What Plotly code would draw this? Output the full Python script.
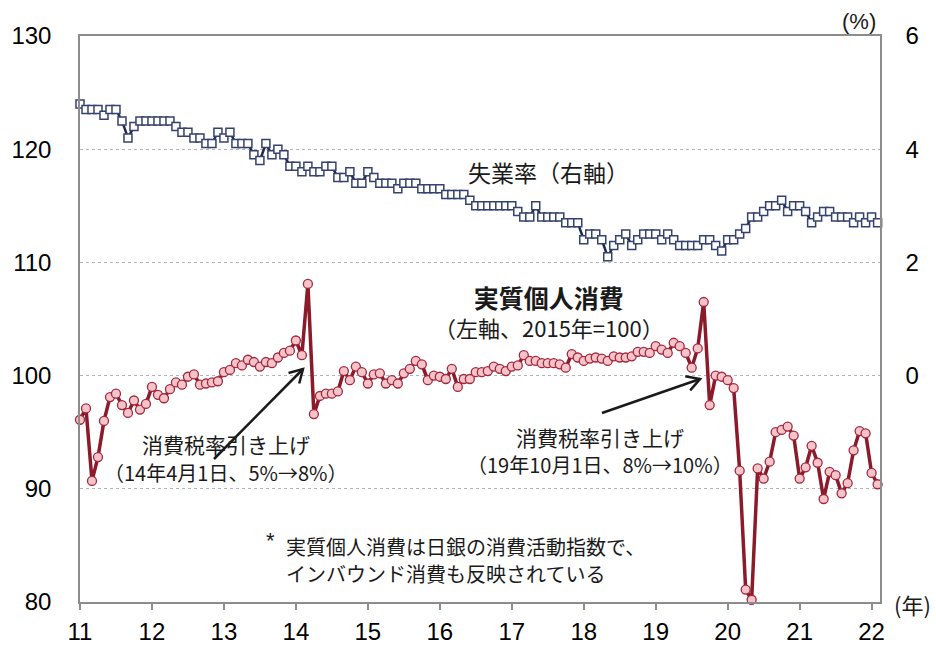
import math
import plotly.graph_objects as go

# ---------------- data ----------------
# monthly, Jan 2011 (index 0) .. Feb 2022 (index 133)
year_ticks = ["11", "12", "13", "14", "15", "16", "17", "18", "19", "20", "21", "22"]

unemployment = [
    # 2011
    4.8, 4.7, 4.7, 4.7, 4.6, 4.7, 4.7, 4.5, 4.2, 4.4, 4.5, 4.5,
    # 2012
    4.5, 4.5, 4.5, 4.5, 4.4, 4.3, 4.3, 4.2, 4.2, 4.1, 4.1, 4.3,
    # 2013
    4.2, 4.3, 4.1, 4.1, 4.1, 3.9, 3.8, 4.1, 3.9, 4.0, 3.9, 3.7,
    # 2014
    3.7, 3.6, 3.7, 3.6, 3.6, 3.7, 3.7, 3.5, 3.5, 3.6, 3.4, 3.4,
    # 2015
    3.6, 3.5, 3.4, 3.4, 3.4, 3.3, 3.4, 3.4, 3.4, 3.3, 3.3, 3.3,
    # 2016
    3.3, 3.2, 3.2, 3.2, 3.2, 3.1, 3.0, 3.0, 3.0, 3.0, 3.0, 3.0,
    # 2017
    3.0, 2.9, 2.8, 2.8, 3.0, 2.8, 2.8, 2.8, 2.8, 2.7, 2.7, 2.7,
    # 2018
    2.4, 2.5, 2.5, 2.4, 2.1, 2.3, 2.4, 2.5, 2.3, 2.4, 2.5, 2.5,
    # 2019
    2.5, 2.4, 2.5, 2.4, 2.3, 2.3, 2.3, 2.3, 2.4, 2.4, 2.3, 2.2,
    # 2020
    2.4, 2.4, 2.5, 2.6, 2.8, 2.8, 2.9, 3.0, 3.0, 3.1, 2.9, 3.0,
    # 2021
    3.0, 2.9, 2.7, 2.8, 2.9, 2.9, 2.8, 2.8, 2.8, 2.7, 2.8, 2.7,
    # 2022
    2.8, 2.7,
]

consumption = [
    # 2011
    96.1, 97.1, 90.7, 92.8, 96.0, 98.1, 98.4, 97.4, 96.7, 97.8, 97.0, 97.5,
    # 2012
    99.0, 98.3, 98.0, 98.8, 99.4, 99.2, 99.9, 100.1, 99.2, 99.3, 99.4, 99.5,
    # 2013
    100.3, 100.5, 101.1, 100.9, 101.4, 101.2, 100.8, 101.2, 101.1, 101.6, 102.0, 102.2,
    # 2014
    103.1, 101.8, 108.1, 96.6, 98.2, 98.4, 98.4, 98.6, 100.4, 99.6, 100.8, 100.3,
    # 2015
    99.3, 100.1, 100.2, 99.3, 99.6, 99.3, 100.2, 100.6, 101.3, 101.0, 99.6, 100.0,
    # 2016
    99.9, 99.7, 100.6, 99.0, 99.7, 99.7, 100.3, 100.3, 100.4, 100.8, 100.6, 100.4,
    # 2017
    100.8, 100.9, 101.8, 101.3, 101.3, 101.1, 101.1, 101.1, 101.0, 100.7, 101.9, 101.6,
    # 2018
    101.3, 101.5, 101.6, 101.5, 101.3, 101.7, 101.6, 101.6, 101.7, 102.1, 102.1, 102.0,
    # 2019
    102.6, 102.3, 102.0, 102.9, 102.6, 102.0, 100.7, 102.4, 106.5, 97.4, 100.0, 99.9,
    # 2020
    99.6, 98.9, 91.6, 81.1, 80.2, 91.8, 90.9, 92.4, 95.0, 95.2, 95.5, 94.7,
    # 2021
    90.9, 91.9, 93.8, 92.3, 89.1, 91.5, 91.2, 89.6, 90.5, 93.4, 95.1, 94.9,
    # 2022
    91.4, 90.4,
]

months = list(range(len(consumption)))
tick_positions = [12 * i for i in range(len(year_ticks))]

# ---------------- layout helpers ----------------
PL, PR, PT, PB = 80.0, 880.0, 36.0, 602.0
X_MAX = 133.4


def px_to_data(px, py):
    x = (px - PL) / (PR - PL) * X_MAX
    y = 130 - (py - PT) / (PB - PT) * 50
    return x, y


def px_to_paper(px, py):
    return (px - PL) / (PR - PL), (PB - py) / (PB - PT)


JP = "Noto Sans CJK JP, Noto Sans, sans-serif"
NUM = "Liberation Sans, Arial, sans-serif"

fig = go.Figure()

fig.add_trace(go.Scatter(
    x=months, y=consumption, mode="lines+markers", name="実質個人消費",
    line=dict(color="#8B1A2B", width=3.5),
    marker=dict(symbol="circle", size=9, color="#F5C3CA",
                line=dict(color="#A3283C", width=1.3)),
    cliponaxis=False, yaxis="y", hoverinfo="skip",
))

fig.add_trace(go.Scatter(
    x=months, y=unemployment, mode="lines+markers", name="失業率",
    line=dict(color="#1F2A50", width=2.5),
    marker=dict(symbol="square", size=8, color="white",
                line=dict(color="#34426E", width=1.5)),
    cliponaxis=False, yaxis="y2", hoverinfo="skip",
))

shapes = []


def arrow(tail, head):
    hx, hy = head
    tx, ty = tail
    dx, dy = tx - hx, ty - hy
    L = (dx * dx + dy * dy) ** 0.5
    ux, uy = dx / L, dy / L
    a = math.radians(30)
    arm = 15
    p1 = (hx + arm * (ux * math.cos(a) - uy * math.sin(a)),
          hy + arm * (ux * math.sin(a) + uy * math.cos(a)))
    p2 = (hx + arm * (ux * math.cos(a) + uy * math.sin(a)),
          hy + arm * (-ux * math.sin(a) + uy * math.cos(a)))
    T = px_to_data(*tail)
    H = px_to_data(*head)
    A1 = px_to_data(*p1)
    A2 = px_to_data(*p2)
    shapes.append(dict(type="path", xref="x", yref="y",
                       path=f"M{T[0]},{T[1]} L{H[0]},{H[1]}",
                       line=dict(color="#1a1a1a", width=2.5)))
    shapes.append(dict(type="path", xref="x", yref="y",
                       path=f"M{A1[0]},{A1[1]} L{H[0]},{H[1]} L{A2[0]},{A2[1]}",
                       line=dict(color="#1a1a1a", width=2.5)))


arrow((214, 459), (303, 369))
arrow((602, 413), (700, 379))

annotations = []


def text(px, py, s, size, family=JP, bold=False, xanchor="center"):
    x, y = px_to_paper(px, py)
    if bold:
        s = f"<b>{s}</b>"
    annotations.append(dict(x=x, y=y, xref="paper", yref="paper", text=s,
                            showarrow=False, xanchor=xanchor, yanchor="middle",
                            font=dict(family=family, size=size, color="#1a1a1a")))


text(548, 172, "失業率（右軸）", 23)
text(549, 311,
     "<b><span style='font-size:25px'>実質個人消費</span></b><br>（左軸、2015年=100）",
     22)
text(226, 444, "消費税率引き上げ", 21)
text(225, 472, "（14年4月1日、5%→8%）", 20)
text(600, 437, "消費税率引き上げ", 21)
text(600, 464, "（19年10月1日、8%→10%）", 20)
text(270, 540, "*", 22, family=NUM)
text(284, 546, "実質個人消費は日銀の消費活動指数で、", 20, xanchor="left")
text(284, 573, "インバウンド消費も反映されている", 20, xanchor="left")
text(859, 21, "(%)", 22, family=NUM)
text(912, 604, "(年)", 22, family=JP)

fig.update_layout(
    width=936, height=649,
    margin=dict(l=PL, r=936 - PR, t=PT, b=649 - PB, autoexpand=False),
    paper_bgcolor="white", plot_bgcolor="white",
    showlegend=False, hovermode=False,
    shapes=shapes, annotations=annotations,
    xaxis=dict(
        range=[0, X_MAX], tickvals=tick_positions, ticktext=year_ticks,
        showgrid=False, zeroline=False,
        showline=True, linecolor="#8c8c8c", linewidth=1.5, mirror=True,
        ticks="outside", ticklen=6, tickcolor="#8c8c8c", tickwidth=1.5,
        ticklabelstandoff=1,
        tickfont=dict(family=NUM, size=24, color="black"),
    ),
    yaxis=dict(
        range=[80, 130], tickvals=[80, 90, 100, 110, 120, 130],
        showgrid=True, gridcolor="#b5b5b5", griddash="dot", gridwidth=1,
        zeroline=False, showline=True, linecolor="#8c8c8c", linewidth=1.5,
        ticks="", ticklabelstandoff=22,
        tickfont=dict(family=NUM, size=24, color="black"),
    ),
    yaxis2=dict(
        range=[-4, 6], tickvals=[0, 2, 4, 6], overlaying="y", side="right",
        showgrid=False, zeroline=False, showline=True, linecolor="#8c8c8c",
        linewidth=1.5, ticks="", ticklabelstandoff=19,
        tickfont=dict(family=NUM, size=24, color="black"),
    ),
)

fig.write_html("out.html", config={"displayModeBar": False},
               post_script="document.body.style.margin='0';")
